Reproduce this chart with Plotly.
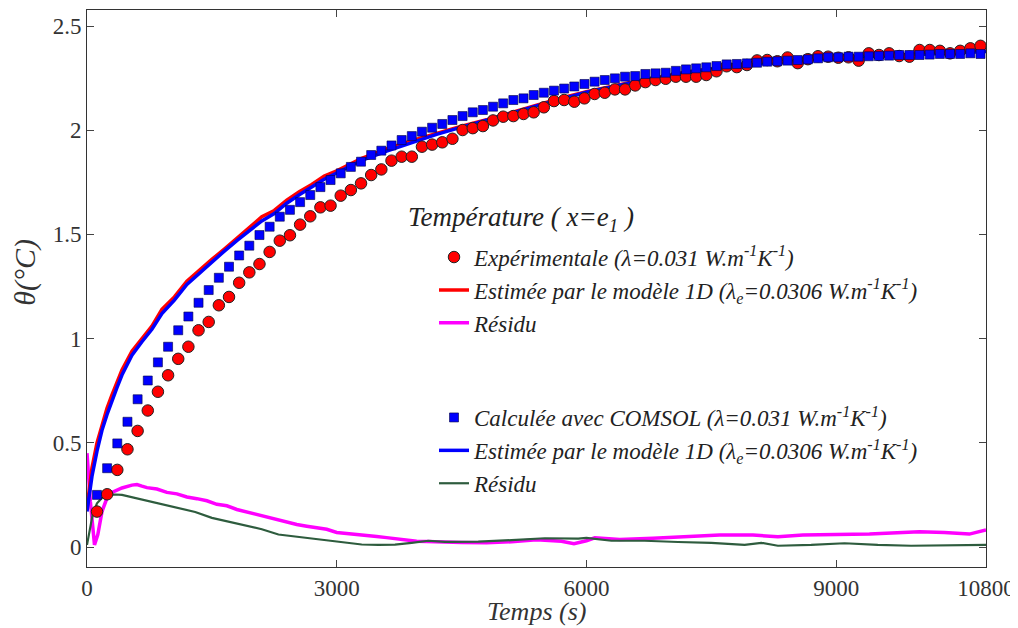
import plotly.graph_objects as go

# Temperature at x = e1: measured / COMSOL points (one every ~122 s)
t_pts = list(range(120, 10801, 122))

theta_exp = [0.17, 0.253, 0.37, 0.469, 0.557, 0.655, 0.745, 0.824, 0.903, 0.961,
             1.04, 1.08, 1.16, 1.2, 1.268, 1.318, 1.358, 1.416, 1.47, 1.496,
             1.547, 1.587, 1.63, 1.638, 1.686, 1.713, 1.745, 1.785, 1.812, 1.854,
             1.873, 1.873, 1.921, 1.931, 1.942, 1.959, 2.001, 2.01, 2.02, 2.047,
             2.065, 2.068, 2.078, 2.086, 2.11, 2.14, 2.145, 2.137, 2.153, 2.174,
             2.18, 2.196, 2.196, 2.215, 2.231, 2.241, 2.247, 2.257, 2.257, 2.257,
             2.265, 2.283, 2.307, 2.303, 2.313, 2.335, 2.337, 2.331, 2.349, 2.322,
             2.341, 2.355, 2.353, 2.348, 2.35, 2.334, 2.369, 2.361, 2.369, 2.356,
             2.353, 2.385, 2.385, 2.381, 2.369, 2.381, 2.393, 2.405]

theta_comsol = [0.25, 0.378, 0.497, 0.601, 0.709, 0.799, 0.886, 0.961, 1.04, 1.106,
                1.172, 1.233, 1.292, 1.345, 1.399, 1.446, 1.497, 1.537, 1.585, 1.618,
                1.655, 1.689, 1.727, 1.761, 1.793, 1.824, 1.849, 1.881, 1.902, 1.927,
                1.953, 1.972, 1.993, 2.012, 2.03, 2.049, 2.068, 2.086, 2.097, 2.113,
                2.129, 2.145, 2.153, 2.169, 2.18, 2.19, 2.2, 2.21, 2.222, 2.233,
                2.241, 2.249, 2.257, 2.26, 2.27, 2.273, 2.276, 2.285, 2.292, 2.297,
                2.302, 2.308, 2.316, 2.318, 2.321, 2.324, 2.329, 2.331, 2.334, 2.337,
                2.34, 2.345, 2.35, 2.35, 2.353, 2.353, 2.355, 2.356, 2.358, 2.361,
                2.361, 2.361, 2.363, 2.366, 2.366, 2.366, 2.369, 2.366]

# 1D model estimates
t_model = [0, 30, 60, 120, 180, 240, 300, 360, 420, 540, 660, 780, 900, 1050,
           1200, 1350, 1500, 1650, 1800, 1950, 2100, 2250, 2400, 2550, 2700,
           2850, 3000, 3300, 3600, 3900, 4200, 4500, 4800, 5100, 5400, 5700,
           6000, 6300, 6600, 6900, 7200, 7500, 7800, 8100, 8400, 8700, 9000,
           9300, 9600, 9900, 10200, 10500, 10800]
theta_model_exp = [0.19, 0.3, 0.38, 0.5, 0.59, 0.665, 0.73, 0.79, 0.85, 0.94,
                   1.0, 1.06, 1.14, 1.2, 1.275, 1.33, 1.38, 1.43, 1.48, 1.535,
                   1.585, 1.615, 1.665, 1.705, 1.74, 1.78, 1.805, 1.865, 1.91,
                   1.95, 1.985, 2.02, 2.05, 2.085, 2.12, 2.155, 2.185, 2.21,
                   2.235, 2.255, 2.28, 2.295, 2.31, 2.32, 2.332, 2.34, 2.348,
                   2.353, 2.36, 2.365, 2.37, 2.375, 2.38]
theta_model_comsol = [0.17, 0.26, 0.34, 0.46, 0.56, 0.635, 0.705, 0.765, 0.825, 0.92,
                      0.985, 1.045, 1.12, 1.185, 1.26, 1.315, 1.37, 1.42, 1.47, 1.52,
                      1.565, 1.6, 1.65, 1.69, 1.73, 1.765, 1.795, 1.855, 1.9,
                      1.94, 1.98, 2.015, 2.047, 2.082, 2.117, 2.152, 2.183, 2.208,
                      2.233, 2.253, 2.278, 2.294, 2.309, 2.319, 2.331, 2.339, 2.347,
                      2.352, 2.359, 2.364, 2.369, 2.374, 2.378]

# residuals
t_res_exp = [0, 40, 90, 130, 180, 240, 300, 420, 540, 600, 660, 720, 840, 960,
             1080, 1200, 1320, 1440, 1560, 1680, 1800, 1920, 2040, 2160, 2280,
             2400, 2520, 2640, 2760, 2880, 3000, 3120, 3240, 3360, 3480, 3600,
             3720, 3840, 3960, 4080, 4200, 4500, 4800, 5100, 5400, 5700, 5850,
             6000, 6100, 6400, 6800, 7200, 7600, 8000, 8300, 8600, 9000, 9400,
             9800, 10000, 10300, 10600, 10800]
res_exp = [0.45, 0.22, 0.01, 0.06, 0.17, 0.235, 0.262, 0.283, 0.297, 0.3, 0.292,
           0.285, 0.278, 0.262, 0.255, 0.24, 0.232, 0.222, 0.205, 0.198, 0.18,
           0.168, 0.155, 0.14, 0.128, 0.117, 0.108, 0.1, 0.093, 0.085, 0.07,
           0.066, 0.06, 0.055, 0.05, 0.045, 0.038, 0.033, 0.028, 0.026, 0.024,
           0.022, 0.02, 0.025, 0.035, 0.028, 0.016, 0.03, 0.044, 0.036, 0.042,
           0.052, 0.058, 0.057, 0.049, 0.057, 0.058, 0.062, 0.069, 0.073, 0.07,
           0.062, 0.082]

t_res_comsol = [0, 30, 70, 120, 180, 260, 340, 420, 520, 720, 900, 1100, 1300,
                1500, 1700, 1900, 2100, 2300, 2500, 2700, 2900, 3100, 3300, 3500,
                3700, 3900, 4100, 4300, 4700, 5100, 5500, 5900, 6000, 6300, 6700,
                7100, 7500, 7900, 8100, 8300, 8700, 9100, 9500, 9900, 10300, 10800]
res_comsol = [0.01, 0.08, 0.16, 0.21, 0.235, 0.25, 0.252, 0.25, 0.241, 0.222,
              0.205, 0.188, 0.168, 0.14, 0.122, 0.105, 0.085, 0.06, 0.05, 0.04,
              0.032, 0.02, 0.012, 0.01, 0.011, 0.02, 0.03, 0.025, 0.026, 0.033,
              0.042, 0.04, 0.044, 0.03, 0.03, 0.024, 0.02, 0.01, 0.02, 0.006,
              0.01, 0.018, 0.01, 0.006, 0.008, 0.01]

x_ticks = [0, 3000, 6000, 9000, 10800]
x_ticktext = ['0', '3000', '6000', '9000', '10800']
y_ticks = [0, 0.5, 1, 1.5, 2, 2.5]
y_ticktext = ['0', '0.5', '1', '1.5', '2', '2.5']

serif = 'Liberation Serif'
unit = ' W.m<sup>-1</sup>K<sup>-1</sup>)'

fig = go.Figure()

# lines first so the markers sit on top
fig.add_trace(go.Scatter(x=t_res_exp, y=res_exp, mode='lines', name='Résidu',
                         line=dict(color='#FF00FF', width=3.5),
                         legend='legend', legendgroup='a3', legendrank=3))
fig.add_trace(go.Scatter(x=t_res_comsol, y=res_comsol, mode='lines', name='Résidu',
                         line=dict(color='#2E5C3E', width=2.2),
                         legend='legend2', legendgroup='b3', legendrank=6))
fig.add_trace(go.Scatter(x=t_model, y=theta_model_exp, mode='lines',
                         name='Estimée par le modèle 1D (λ<sub>e</sub>=0.0306' + unit,
                         line=dict(color='#FF0000', width=3.5),
                         legend='legend', legendgroup='a2', legendrank=2))
fig.add_trace(go.Scatter(x=t_model, y=theta_model_comsol, mode='lines',
                         name='Estimée par le modèle 1D (λ<sub>e</sub>=0.0306' + unit,
                         line=dict(color='#0000FF', width=3.5),
                         legend='legend2', legendgroup='b2', legendrank=5))
fig.add_trace(go.Scatter(x=t_pts, y=theta_exp, mode='markers',
                         name='Expérimentale (λ=0.031' + unit,
                         marker=dict(symbol='circle', size=11.5, color='#FF0000',
                                     line=dict(color='#222222', width=1)),
                         legend='legend', legendgroup='a1', legendrank=1))
fig.add_trace(go.Scatter(x=t_pts, y=theta_comsol, mode='markers',
                         name='Calculée avec COMSOL (λ=0.031' + unit,
                         marker=dict(symbol='square', size=9, color='#0000FF',
                                     line=dict(color='#000044', width=0.6)),
                         legend='legend2', legendgroup='b1', legendrank=4))

legend_font = dict(family=serif, size=23, color='#222222', style='italic')

# the page body adds an 8 px margin, so the figure is 8 px smaller each way
fig.update_layout(
    width=1010, height=620, autosize=False,
    margin=dict(l=79, r=32, t=2, b=61),
    plot_bgcolor='white', paper_bgcolor='white',
    font=dict(family=serif, color='#333333'),
    showlegend=True,
    legend=dict(x=0.386, y=0.595, xanchor='left', yanchor='top',
                bgcolor='rgba(0,0,0,0)', font=legend_font, tracegroupgap=0),
    legend2=dict(x=0.386, y=0.307, xanchor='left', yanchor='top',
                 bgcolor='rgba(0,0,0,0)', font=legend_font, tracegroupgap=0),
    xaxis=dict(range=[0, 10800], tickvals=x_ticks, ticktext=x_ticktext,
               ticks='inside', ticklen=7, automargin=False,
               showline=True, linecolor='#333333', linewidth=1, mirror='ticks',
               showgrid=False, zeroline=False,
               tickfont=dict(family=serif, size=23, color='#333333')),
    yaxis=dict(range=[-0.096, 2.577], tickvals=y_ticks, ticktext=y_ticktext,
               ticks='inside', ticklen=7, automargin=False,
               showline=True, linecolor='#333333', linewidth=1, mirror='ticks',
               showgrid=False, zeroline=False,
               tickfont=dict(family=serif, size=23, color='#333333')),
)

# axis titles and legend title
fig.add_annotation(text='Temps (s)', xref='paper', yref='paper', x=0.5, y=-0.079,
                   showarrow=False, yanchor='middle',
                   font=dict(family=serif, size=26, color='#333333', style='italic'))
fig.add_annotation(text='θ(°C)', xref='paper', yref='paper', x=-0.069, y=0.53,
                   showarrow=False, textangle=-90, xanchor='center', yanchor='middle',
                   font=dict(family=serif, size=30, color='#333333', style='italic'))
fig.add_annotation(text='Température ( x=e<sub>1</sub> )', xref='paper', yref='paper',
                   x=0.3545, y=0.625, showarrow=False, xanchor='left', yanchor='middle',
                   font=dict(family=serif, size=27, color='#222222', style='italic'))

fig.write_html("out.html")
